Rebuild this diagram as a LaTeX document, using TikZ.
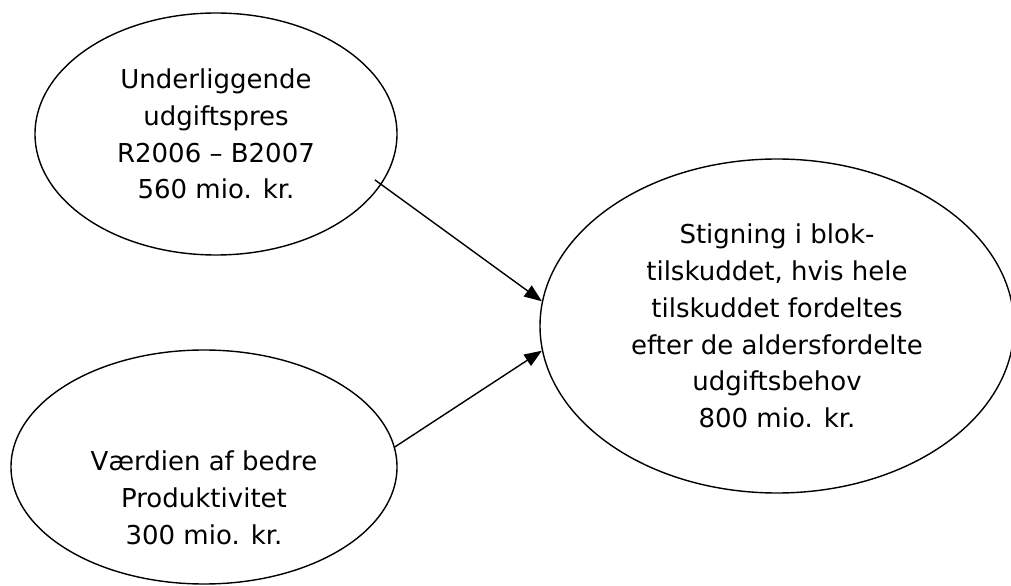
\documentclass[tikz,border=0pt]{standalone}
\usepackage{fontspec}
\setmainfont{DejaVu Sans}
\usetikzlibrary{shapes,arrows.meta,positioning,calc}

\begin{document}
\begin{tikzpicture}[
    boble/.style={draw, ellipse, line width=1pt, inner sep=0pt},
    tekst/.style={align=center, font=\fontsize{18.5}{26.2}\selectfont},
    pil/.style={-{Triangle[length=12.5pt, width=9.5pt]}, line width=1pt}]
                    \useasboundingbox (0,0) rectangle (25.275,14.625);
                    \node[boble, tekst, minimum width=9.05cm, minimum height=6.05cm] (Pres) at (5.4,11.275) {Underliggende\\udgiftspres\\R2006 -- B2007\\560 mio. kr.};
                    \node[boble, minimum width=9.65cm, minimum height=5.85cm] (Prod) at (5.1,2.95) {};
                    \node[tekst] (ProdTekst) at (5.1,2.175) {Værdien af bedre\\Produktivitet\\300 mio. kr.};
                    \node[boble, tekst, minimum width=11.85cm, minimum height=8.35cm] (Blok) at (19.425,6.475) {Stigning i blok-\\tilskuddet, hvis hele\\tilskuddet fordeltes\\efter de aldersfordelte\\udgiftsbehov\\800 mio. kr.};
                    \draw[pil, shorten <=-0.2cm] (Pres.-17) -- (Blok.174);
                    \draw[pil] (Prod.6) -- (Blok.186);
                \end{tikzpicture}
\end{document}
